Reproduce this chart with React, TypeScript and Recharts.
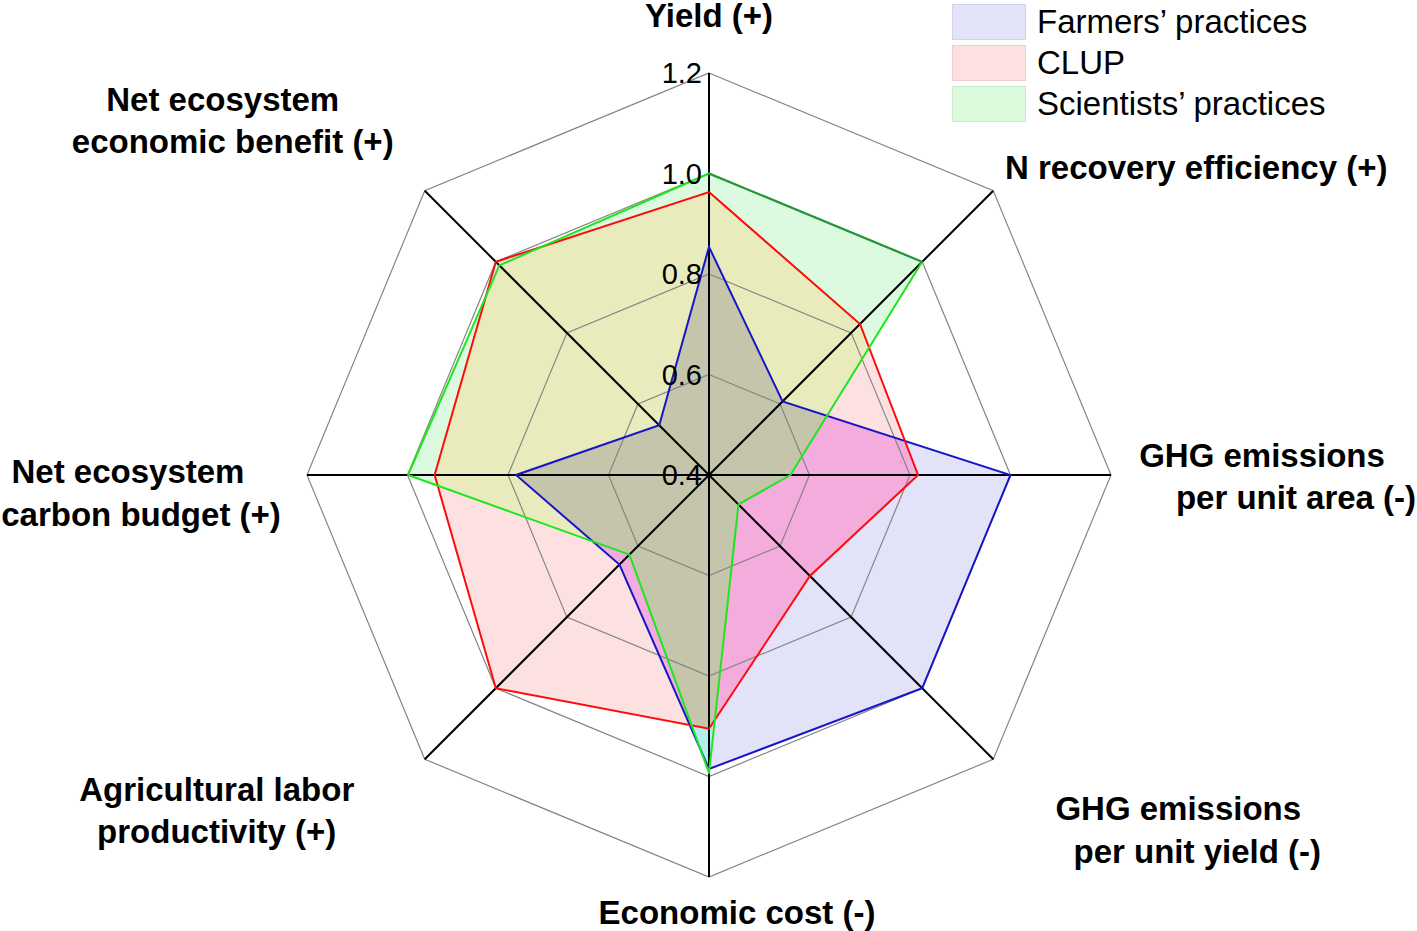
import React from 'react';
import {
  RadarChart,
  Radar,
  PolarGrid,
  PolarAngleAxis,
  PolarRadiusAxis,
  Legend,
} from 'recharts';

// ---------- data ----------
const categories = [
  'Yield (+)',
  'N recovery efficiency (+)',
  'GHG emissions per unit area (-)',
  'GHG emissions per unit yield (-)',
  'Economic cost (-)',
  'Agricultural labor productivity (+)',
  'Net ecosystem carbon budget (+)',
  'Net ecosystem economic benefit (+)',
];

const labelLines = [
  ['Yield (+)'],
  ['N recovery efficiency (+)'],
  ['GHG emissions', 'per unit area (-)'],
  ['GHG emissions', 'per unit yield (-)'],
  ['Economic cost (-)'],
  ['Agricultural labor', 'productivity (+)'],
  ['Net ecosystem', 'carbon budget (+)'],
  ['Net ecosystem', 'economic benefit (+)'],
];

const farmers = [0.854, 0.607, 1.0, 1.0, 0.985, 0.652, 0.784, 0.54];
const clup = [0.963, 0.825, 0.816, 0.684, 0.905, 1.0, 0.946, 1.0];
const scientists = [1.0, 1.0, 0.562, 0.483, 0.993, 0.624, 0.999, 0.99];

const radiusDomain = [0.4, 1.2];
const radiusTicks = [0.4, 0.6, 0.8, 1.0, 1.2];

const seriesNames = ['Farmers\u2019 practices', 'CLUP', 'Scientists\u2019 practices'];

const data = categories.map((c, i) => ({
  category: c,
  farmers: farmers[i],
  clup: clup[i],
  scientists: scientists[i],
}));

// ---------- styles ----------
const FONT = '"Liberation Sans", Arial, Helvetica, sans-serif';

const C = {
  blueOnly: '#e2e2f9',
  redOnly: '#fde1e1',
  greenOnly: '#dcfadf',
  redBlue: '#f4acdc',
  redGreen: '#e9ebbc',
  greenBlue: '#b2eeee',
  all: '#c5c5ab',
  blueLine: '#1616c8',
  redLine: '#ff0a0a',
  greenLine: '#1ee61e',
  greenLineDark: '#2f8f45',
};

const legendSwatches = [
  { fill: '#e3e3fa', border: '#d2d2ee' },
  { fill: '#fde0e0', border: '#f0cccc' },
  { fill: '#ddfadd', border: '#c8ecc8' },
];

// label offsets (relative to the axis end point), one per line
const labelOffsets: number[][][] = [
  [[0, -58]],
  [[203, -23]],
  [[151, -20], [185, 22]],
  [[185, 49], [204, 92]],
  [[28, 35]],
  [[-208, 30], [-208, 72]],
  [[-179, -4], [-166, 39]],
  [[-202, -91], [-192, -49]],
];
const TICK_GAP = 8;

const toPts = (points: any[]) => points.map((p) => `${p.x},${p.y}`).join(' ');

const FarmersFill = (props: any) => {
  const pts = toPts(props.points);
  return (
    <g>
      <clipPath id="clip-farmers">
        <polygon points={pts} />
      </clipPath>
      <polygon points={pts} fill={C.blueOnly} stroke="none" />
    </g>
  );
};

const ClupFill = (props: any) => {
  const pts = toPts(props.points);
  return (
    <g>
      <clipPath id="clip-clup">
        <polygon points={pts} />
      </clipPath>
      <polygon points={pts} fill={C.redOnly} stroke="none" />
      <polygon points={pts} fill={C.redBlue} stroke="none" clipPath="url(#clip-farmers)" />
    </g>
  );
};

const ScientistsFill = (props: any) => {
  const pts = toPts(props.points);
  return (
    <g>
      <polygon points={pts} fill={C.greenOnly} stroke="none" />
      <polygon points={pts} fill={C.greenBlue} stroke="none" clipPath="url(#clip-farmers)" />
      <polygon points={pts} fill={C.redGreen} stroke="none" clipPath="url(#clip-clup)" />
      <g clipPath="url(#clip-farmers)">
        <polygon points={pts} fill={C.all} stroke="none" clipPath="url(#clip-clup)" />
      </g>
    </g>
  );
};

const ScientistsLine = (props: any) => {
  const pts = props.points || [];
  const pStr = toPts(pts);
  return (
    <g>
      <polygon points={pStr} fill="none" stroke={C.greenLine} strokeWidth={2} strokeLinejoin="round" />
      {pts.length > 1 && (
        <line
          x1={pts[0].x}
          y1={pts[0].y}
          x2={pts[1].x}
          y2={pts[1].y}
          stroke={C.greenLineDark}
          strokeWidth={2}
          strokeLinecap="round"
        />
      )}
    </g>
  );
};

const AngleTick = (props: any) => {
  const { x, y, payload } = props;
  const idx = props.index ?? payload?.index ?? 0;
  const lines = labelLines[idx] || [String(payload?.value)];
  const offs = labelOffsets[idx] || [];
  const ang = ((payload?.coordinate ?? 0) * Math.PI) / 180;
  const ax = x - TICK_GAP * Math.cos(ang);
  const ay = y + TICK_GAP * Math.sin(ang);
  return (
    <g>
      {lines.map((line, k) => (
        <text
          key={k}
          x={ax + (offs[k] ? offs[k][0] : 0)}
          y={ay + (offs[k] ? offs[k][1] : 0)}
          textAnchor="middle"
          dominantBaseline="central"
          fontFamily={FONT}
          fontWeight="bold"
          fontSize={33}
          fill="#000"
        >
          {line}
        </text>
      ))}
    </g>
  );
};

const RadiusTick = (props: any) => {
  const { x, y, payload } = props;
  return (
    <text
      x={x - 7}
      y={y}
      textAnchor="end"
      dominantBaseline="central"
      fontFamily={FONT}
      fontSize={29}
      fill="#000"
    >
      {Number(payload.value).toFixed(1)}
    </text>
  );
};

const LegendContent = () => (
  <div style={{ fontFamily: FONT, fontSize: 33, color: '#000' }}>
    {seriesNames.map((name, i) => (
      <div key={name} style={{ display: 'flex', alignItems: 'center', height: 41 }}>
        <div
          style={{
            width: 72,
            height: 34,
            background: legendSwatches[i].fill,
            border: `1px solid ${legendSwatches[i].border}`,
            marginRight: 11,
            flex: 'none',
          }}
        />
        <span style={{ whiteSpace: 'nowrap', lineHeight: '41px' }}>{name}</span>
      </div>
    ))}
  </div>
);

const css = `
.recharts-polar-grid-angle line { stroke: #000 !important; stroke-width: 2px; }
.recharts-polar-grid-concentric path { stroke: #858585; stroke-width: 1.2px; }
`;

const gridZ: any = { zIndex: 150 };
const lineZ: any = { zIndex: 300 };

export default function App() {
  return (
    <div style={{ position: 'absolute', left: 0, top: 0, width: 1417, height: 931, background: '#fff' }}>
      <style>{css}</style>
      <RadarChart
        width={1417}
        height={931}
        data={data}
        cx={709}
        cy={475}
        outerRadius={402}
        margin={{ top: 0, right: 0, bottom: 0, left: 0 }}
      >
        <Radar dataKey="farmers" name={seriesNames[0]} isAnimationActive={false} shape={FarmersFill} />
        <Radar dataKey="clup" name={seriesNames[1]} isAnimationActive={false} shape={ClupFill} />
        <Radar dataKey="scientists" name={seriesNames[2]} isAnimationActive={false} shape={ScientistsFill} />
        <PolarGrid gridType="polygon" stroke="#858585" {...gridZ} />
        <PolarAngleAxis
          dataKey="category"
          axisLine={false}
          tickLine={false}
          tick={(p: any) => <AngleTick {...p} />}
        />
        <PolarRadiusAxis
          angle={90}
          type="number"
          scale="linear"
          domain={radiusDomain}
          allowDataOverflow={true}
          allowDecimals={true}
          ticks={radiusTicks}
          axisLine={false}
          tickLine={false}
          tick={(p: any) => <RadiusTick {...p} />}
        />
        <Radar dataKey="farmers" isAnimationActive={false} fill="none" stroke={C.blueLine} strokeWidth={2} dot={false} legendType="none" {...lineZ} />
        <Radar dataKey="clup" isAnimationActive={false} fill="none" stroke={C.redLine} strokeWidth={2} dot={false} legendType="none" {...lineZ} />
        <Radar dataKey="scientists" isAnimationActive={false} fill="none" stroke={C.greenLine} strokeWidth={2} dot={false} legendType="none" shape={ScientistsLine} {...lineZ} />
        <Legend
          layout="vertical"
          align="right"
          verticalAlign="top"
          content={() => <LegendContent />}
          wrapperStyle={{ top: 1, left: 952, right: 'auto', width: 460 }}
        />
      </RadarChart>
    </div>
  );
}
